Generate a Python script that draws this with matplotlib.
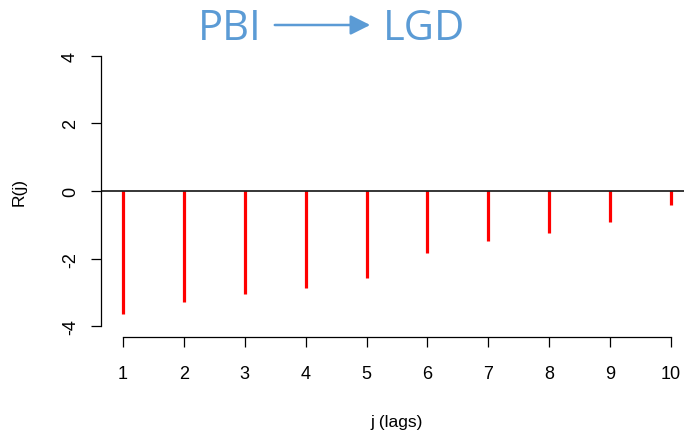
import numpy as np
import matplotlib.pyplot as plt

# ---- donnees
lags = [1, 2, 3, 4, 5, 6, 7, 8, 9, 10]
r_j = [-3.64, -3.28, -3.05, -2.87, -2.56, -1.82, -1.49, -1.24, -0.91, -0.40]
xticks = [1, 2, 3, 4, 5, 6, 7, 8, 9, 10]
yticks = [-4, -2, 0, 2, 4]

plt.rcParams['font.family'] = ['Liberation Sans', 'DejaVu Sans']
plt.rcParams['axes.unicode_minus'] = False

W, H = 684, 435
fig = plt.figure(figsize=(W / 100, H / 100), dpi=100)

# zone du graphique (en pixels, comme R)
x0, x1 = 101, 693
y0, y1 = 46, 338
ax = fig.add_axes([x0 / W, 1 - y1 / H, (x1 - x0) / W, (y1 - y0) / H])

ax.vlines(lags, 0, r_j, color="red", linewidth=2.3)
ax.axhline(0, color="black", linewidth=1.1)

ax.set_xlim(0.64, 10.36)
ax.set_ylim(-4.32, 4.32)

ax.spines['top'].set_visible(False)
ax.spines['right'].set_visible(False)
ax.spines['left'].set_bounds(-4, 4)
ax.spines['bottom'].set_bounds(1, 10)
ax.spines['left'].set_linewidth(0.9)
ax.spines['bottom'].set_linewidth(0.9)

ax.set_xticks(xticks)
ax.set_yticks(yticks)
ax.tick_params(length=7, width=0.9, labelsize=13)
ax.tick_params(axis="x", pad=13)
ax.tick_params(axis="y", pad=9)
for lab in ax.get_yticklabels():
    lab.set_rotation(90)
    lab.set_va("center")

ax.set_xlabel("j (lags)", fontsize=12.5, labelpad=23)
ax.set_ylabel("R(j)", fontsize=12.5, labelpad=25)

# ---- titre PBI -> LGD
bleu = "#5b9bd5"
fig.text(230 / W, 1 - 29 / H, "PBI", color=bleu, fontsize=30, family="Open Sans",
         ha="center", va="center")
fig.text(424 / W, 1 - 29 / H, "LGD", color=bleu, fontsize=30, family="Open Sans",
         ha="center", va="center")
fig.patches.append(plt.matplotlib.patches.FancyArrowPatch(
    (272 / W, 1 - 26 / H), (373 / W, 1 - 26 / H), transform=fig.transFigure,
    arrowstyle="-|>,head_length=12,head_width=6", color=bleu, linewidth=1.8,
    mutation_scale=1))

fig.savefig("out.png", dpi=100)
